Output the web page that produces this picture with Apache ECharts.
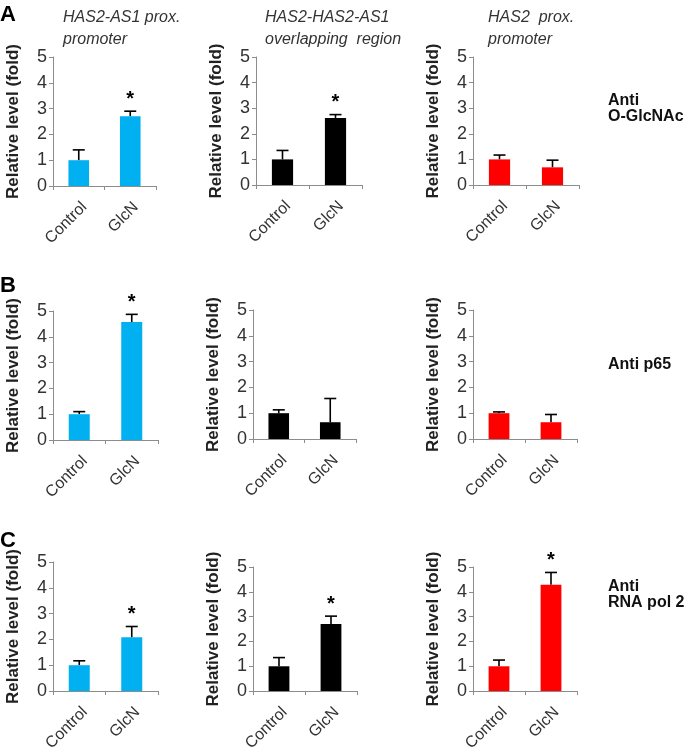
<!DOCTYPE html>
<html>
<head>
<meta charset="utf-8">
<script src="https://cdn.jsdelivr.net/npm/echarts@6/dist/echarts.min.js"></script>
<style>
html,body{margin:0;padding:0;background:#fff;}
#chart{width:693px;height:754px;}
</style>
</head>
<body>
<div id="chart"></div>
<script>
// ---- data ----
const categories = ['Control', 'GlcN'];
const regionTitles = ['HAS2-AS1 prox.\npromoter', 'HAS2-HAS2-AS1\noverlapping  region', 'HAS2  prox.\npromoter'];
const rowLetters = ['A', 'B', 'C'];
const antibodyLabels = ['Anti\nO-GlcNAc', 'Anti p65', 'Anti\nRNA pol 2'];
const yTicks = [0, 1, 2, 3, 4, 5];
const yAxisName = 'Relative level (fold)';

// Row A: Anti O-GlcNAc (mean, upper error)
const meanOGlcNAc = [[1.0, 2.70], [1.0, 2.62], [1.0, 0.69]];
const errOGlcNAc  = [[0.40, 0.20], [0.35, 0.13], [0.17, 0.28]];
const sigOGlcNAc  = [[0, 1], [0, 1], [0, 0]];
// Row B: Anti p65
const meanP65 = [[1.0, 4.57], [1.0, 0.65], [1.0, 0.65]];
const errP65  = [[0.10, 0.30], [0.13, 0.92], [0.05, 0.30]];
const sigP65  = [[0, 1], [0, 0], [0, 0]];
// Row C: Anti RNA pol 2
const meanPol2 = [[1.0, 2.08], [1.0, 2.70], [1.0, 4.28]];
const errPol2  = [[0.17, 0.42], [0.35, 0.32], [0.25, 0.50]];
const sigPol2  = [[0, 1], [0, 1], [0, 1]];

const colColors = ['#00B0F0', '#000000', '#FF0000'];

// ---- layout (pixels) ----
const rowsMean = [meanOGlcNAc, meanP65, meanPol2];
const rowsErr = [errOGlcNAc, errP65, errPol2];
const rowsSig = [sigOGlcNAc, sigP65, sigPol2];
const gridBoxes = [
  [[53, 57, 103, 129], [256, 57, 106, 128], [473, 57, 106, 128]],
  [[53, 311, 105, 129], [253, 310, 103, 129], [473, 310, 104, 129]],
  [[53, 562, 105, 129], [253, 567, 104, 130], [473, 567, 104, 130]]
];

const chart = echarts.init(document.getElementById('chart'), null, {renderer: 'canvas'});
const grids = [], xAxes = [], yAxes = [], series = [];
const axisColor = '#8c8c8c';
let idx = 0;
for (let r = 0; r < 3; r++) {
  for (let c = 0; c < 3; c++) {
    const b = gridBoxes[r][c];
    grids.push({left: b[0], top: b[1], width: b[2], height: b[3]});
    xAxes.push({
      type: 'category', gridIndex: idx, data: categories,
      axisLine: {lineStyle: {color: axisColor, width: 1}},
      axisTick: {show: true, length: 4, lineStyle: {color: axisColor}},
      axisLabel: {rotate: 45, fontSize: 16, color: '#333', margin: 13, verticalAlign: 'top', fontFamily: 'Liberation Sans, Arial'}
    });
    yAxes.push({
      type: 'value', gridIndex: idx, min: 0, max: 5, interval: 1,
      axisLine: {show: true, lineStyle: {color: axisColor, width: 1}},
      axisTick: {show: true, length: 4, lineStyle: {color: axisColor}},
      splitLine: {show: false},
      axisLabel: {fontSize: 18, color: '#333', margin: 6, fontFamily: 'Liberation Sans, Arial'},
      name: yAxisName, nameLocation: 'middle', nameGap: 31,
      nameTextStyle: {fontSize: 17, fontWeight: 'bold', color: '#222', fontFamily: 'Liberation Sans, Arial'}
    });
    const means = rowsMean[r][c], errs = rowsErr[r][c], sigs = rowsSig[r][c];
    series.push({
      type: 'bar', xAxisIndex: idx, yAxisIndex: idx, barWidth: '40%',
      data: means, itemStyle: {color: colColors[c]}, silent: true, animation: false
    });
    series.push({
      type: 'custom', xAxisIndex: idx, yAxisIndex: idx, animation: false, silent: true,
      data: means.map((m, i) => [i, m, errs[i], sigs[i]]),
      renderItem: function (params, api) {
        const i = api.value(0), m = api.value(1), e = api.value(2), s = api.value(3);
        const base = api.coord([i, m]);
        const top = api.coord([i, m + e]);
        const cap = 6;
        const children = [
          {type: 'line', shape: {x1: base[0], y1: base[1], x2: top[0], y2: top[1]}, style: {stroke: '#000', lineWidth: 1.6}},
          {type: 'line', shape: {x1: top[0] - cap, y1: top[1], x2: top[0] + cap, y2: top[1]}, style: {stroke: '#000', lineWidth: 1.6}}
        ];
        if (s) {
          children.push({type: 'text', style: {text: '*', x: top[0], y: top[1] - 2, textAlign: 'center', textVerticalAlign: 'bottom', fontSize: 20, fontWeight: 'bold', fill: '#000', fontFamily: 'Liberation Sans, Arial'}});
        }
        return {type: 'group', children: children};
      }
    });
    idx++;
  }
}

const titleStyle = {fontSize: 16, fontStyle: 'italic', fontWeight: 'normal', color: '#333', lineHeight: 22, fontFamily: 'Liberation Sans, Arial'};
const titles = [];
const titleLeft = [58, 260, 483];
for (let c = 0; c < 3; c++) {
  titles.push({text: regionTitles[c], left: titleLeft[c], top: 2, textStyle: titleStyle});
}
const letterTop = [4, 275, 530];
for (let r = 0; r < 3; r++) {
  titles.push({text: rowLetters[r], left: 0, top: letterTop[r], padding: 0, textStyle: {fontSize: 22, fontWeight: 'bold', color: '#000', fontFamily: 'Liberation Sans, Arial'}});
}
const abTop = [93, 357, 579];
for (let r = 0; r < 3; r++) {
  titles.push({text: antibodyLabels[r], left: 608, top: abTop[r], padding: 0, textStyle: {fontSize: 16, fontWeight: 'bold', color: '#111', lineHeight: 16, fontFamily: 'Liberation Sans, Arial'}});
}

chart.setOption({
  animation: false,
  backgroundColor: '#fff',
  title: titles,
  grid: grids,
  xAxis: xAxes,
  yAxis: yAxes,
  series: series
});
</script>
</body>
</html>
